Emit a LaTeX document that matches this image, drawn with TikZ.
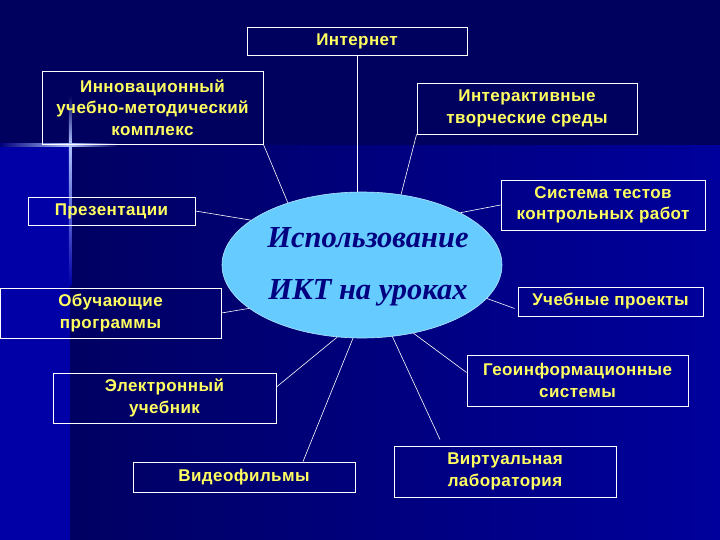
\documentclass[tikz,border=0pt]{standalone}
\usepackage{fontspec}
\setmainfont{Liberation Sans}
\newfontfamily\ikserif{Liberation Serif}
\usetikzlibrary{shapes.geometric,calc}
\definecolor{topbg}{RGB}{0,0,94}
\definecolor{stripbg}{RGB}{0,0,166}
\definecolor{lowL}{RGB}{0,0,98}
\definecolor{lowR}{RGB}{0,0,156}
\definecolor{txtyellow}{RGB}{255,255,96}
\definecolor{ellfill}{RGB}{102,204,255}
\definecolor{elltext}{RGB}{0,0,128}
\definecolor{glow}{RGB}{175,195,255}
\begin{document}
\begin{tikzpicture}[x=1pt,y=-1pt,
  box/.style={draw=white, line width=0.9pt, rectangle, inner sep=0pt, align=center,
    text=txtyellow, font=\fontsize{17}{21.5}\selectfont\bfseries\addfontfeature{LetterSpace=2.5}},
  conn/.style={draw=white, line width=0.6pt},
  centre/.style={ellipse, fill=ellfill, draw=ellfill!50!white, line width=0.6pt,
    minimum width=280pt, minimum height=146pt, inner sep=0pt},
  ctext/.style={text=elltext, inner sep=0pt, font=\ikserif\bfseries\itshape\fontsize{30.5}{36}\selectfont}]

\useasboundingbox (0,0) rectangle (720,540);
% background
\fill[topbg] (0,0) rectangle (720,146);
\shade[left color=lowL, right color=lowR] (70,146) rectangle (720,540);
\fill[stripbg] (0,146) rectangle (70,540);
% glow cross
\shade[left color=stripbg!40!topbg, right color=glow] (0,143.8) rectangle (70,146.4);
\shade[left color=glow, right color=topbg!50!lowL] (70,143.8) rectangle (118,146.4);
\shade[top color=topbg, bottom color=glow] (68.8,95) rectangle (71.4,145);
\shade[top color=glow, bottom color=stripbg] (68.8,145) rectangle (71.4,285);

% centre
\node[centre] (c) at (362,265) {};
\node[ctext] (t1) at (368,238) {Использование};
\node[ctext] (t2) at (368,293) {ИКТ на уроках};

% boxes
\node[box, minimum width=220pt, minimum height=28pt] (inet) at (357,41) {Интернет};
\node[box, minimum width=221pt, minimum height=73pt] (innov) at (152.5,107.5) {Инновационный\\учебно-методический\\комплекс};
\node[box, minimum width=220pt, minimum height=51pt] (inter) at (527,108.5) {Интерактивные\\творческие среды};
\node[box, minimum width=204pt, minimum height=50pt] (tests) at (603,205) {Система тестов\\контрольных работ};
\node[box, minimum width=167pt, minimum height=28pt] (pres) at (111.5,211) {Презентации};
\node[box, minimum width=221pt, minimum height=50pt] (obuch) at (110.5,313) {Обучающие\\программы};
\node[box, minimum width=185pt, minimum height=29pt] (proj) at (610.5,301.5) {Учебные проекты};
\node[box, minimum width=223pt, minimum height=50pt] (elec) at (164.5,398) {Электронный\\учебник};
\node[box, minimum width=222pt, minimum height=30pt] (video) at (244,477) {Видеофильмы};
\node[box, minimum width=221pt, minimum height=51pt] (geo) at (577.5,380.5) {Геоинформационные\\системы};
\node[box, minimum width=222pt, minimum height=51pt] (virt) at (505,471.5) {Виртуальная\\лаборатория};

% connectors
\draw[conn] (inet.south) -- (inet.south |- c.north);
\draw[conn] (innov.south east) -- (c.140);
\draw[conn] (inter.south west) -- (c.61);
\draw[conn] (tests.west) -- (c.28);
\draw[conn] (pres.east) -- (c.158);
\draw[conn] (obuch.east) -- (c.201);
\draw[conn] ($(proj.west)+(-3,7)$) -- (c.345);
\draw[conn] ($(elec.east)+(0,-11)$) -- (c.251);
\draw[conn] ($(video.north)+(59,0)$) -- (c.263);
\draw[conn] ($(geo.west)+(0,-8)$) -- (c.307);
\draw[conn] ($(virt.north)+(-65,-6)$) -- (c.293);
\end{tikzpicture}
\end{document}
